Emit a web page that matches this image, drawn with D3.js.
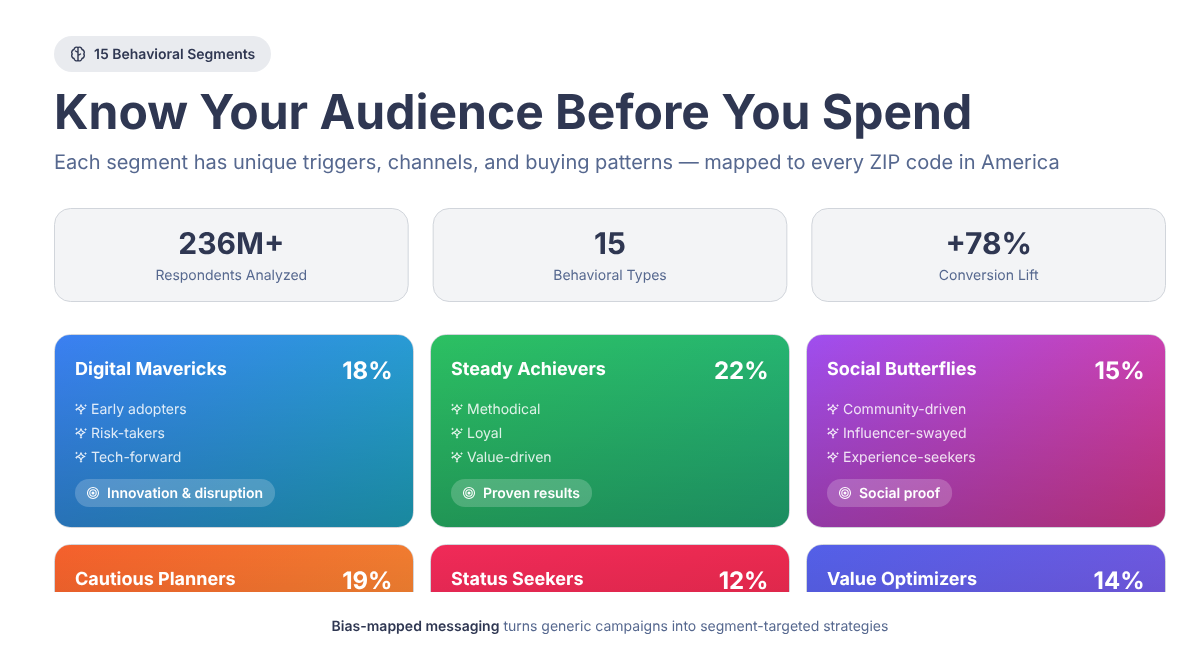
<!DOCTYPE html>
<html>
<head>
<meta charset="utf-8">
<script src="https://cdn.jsdelivr.net/npm/d3@7"></script>
<style>
  html, body { margin: 0; padding: 0; background: #fff; overflow: hidden; }
  svg { display: block; will-change: transform; }
  text { font-family: Inter, "Noto Sans", sans-serif; text-rendering: geometricPrecision; }
</style>
</head>
<body>
<svg width="1199" height="653"></svg>
<script>
const statValues = ["236M+", "15", "+78%"];
const statLabels = ["Respondents Analyzed", "Behavioral Types", "Conversion Lift"];

const segments = ["Digital Mavericks", "Steady Achievers", "Social Butterflies", "Cautious Planners", "Status Seekers", "Value Optimizers"];
const shares = [18, 22, 15, 19, 12, 14];
const traits = [
  ["Early adopters", "Risk-takers", "Tech-forward"],
  ["Methodical", "Loyal", "Value-driven"],
  ["Community-driven", "Influencer-swayed", "Experience-seekers"],
  [], [], []
];
const triggers = ["Innovation & disruption", "Proven results", "Social proof", "", "", ""];
const gradientStops = [
  ["#3b7ff2", "#1faac5"],
  ["#2cc062", "#23af78"],
  ["#9f4ef0", "#e03a90"],
  ["#f5602c", "#ef8a32"],
  ["#f02a58", "#e82a4c"],
  ["#5360e8", "#7a55dc"]
];
const overlayStops = [0, 0.2];

(function () {
  "use strict";
  const svg = d3.select("svg");
  const defs = svg.append("defs");
  const ink = "#2f3752";
  const muted = "#56688f";

  // header
  svg.append("rect").attr("x", 0).attr("y", 0).attr("width", 1199).attr("height", 653).attr("fill", "#fff");
  svg.append("rect").attr("x", 54).attr("y", 36).attr("width", 217).attr("height", 36).attr("rx", 18).attr("fill", "#e9ebef");
  const brain = svg.append("g").attr("transform", "translate(78,54)").attr("fill", "none").attr("stroke", ink).attr("stroke-width", 1.4).attr("stroke-linecap", "round");
  brain.append("path").attr("d", "M0,-6.5C-1.5,-7.5 -3.8,-6.5 -4,-4.5C-6,-4 -7,-1.5 -5.8,0C-7,1.5 -6,4 -4,4.5C-3.8,6.5 -1.5,7.5 0,6.5C1.5,7.5 3.8,6.5 4,4.5C6,4 7,1.5 5.8,0C7,-1.5 6,-4 4,-4.5C3.8,-6.5 1.5,-7.5 0,-6.5Z");
  brain.append("path").attr("d", "M0,-6.5V6.5M0,-1.5L-2.5,-3M0,1.5L2.5,0");
  svg.append("text").attr("x", 94).attr("y", 59).attr("font-size", 14).attr("font-weight", 600).attr("fill", ink).text("15 Behavioral Segments");

  svg.append("text").attr("x", 54).attr("y", 129).attr("font-size", 48).attr("font-weight", 700).attr("fill", ink).text("Know Your Audience Before You Spend");
  svg.append("text").attr("x", 54).attr("y", 169).attr("font-size", 20).attr("fill", muted).text("Each segment has unique triggers, channels, and buying patterns \u2014 mapped to every ZIP code in America");

  // stat boxes
  const statX = d3.scaleBand().domain(d3.range(statValues.length)).range([54, 1166]).paddingInner(24 / 378.67);
  const stat = svg.selectAll("g.stat").data(statValues).join("g").attr("class", "stat")
    .attr("transform", (d, i) => `translate(${statX(i)},208)`);
  stat.append("rect").attr("x", 0.5).attr("y", 0.5).attr("width", statX.bandwidth() - 1).attr("height", 93).attr("rx", 16)
    .attr("fill", "#f3f4f6").attr("stroke", "#d1d5db");
  stat.append("text").attr("x", statX.bandwidth() / 2).attr("y", 46).attr("text-anchor", "middle")
    .attr("font-size", 30).attr("font-weight", 700).attr("fill", ink).text((d) => d);
  stat.append("text").attr("x", statX.bandwidth() / 2).attr("y", 72).attr("text-anchor", "middle")
    .attr("font-size", 14).attr("fill", muted).text((d, i) => statLabels[i]);

  // segment cards, 3 per row
  const cardX = d3.scaleBand().domain([0, 1, 2]).range([54, 1166]).paddingInner(16 / 376);
  const cardY = d3.scaleBand().domain([0, 1]).range([334, 738]).paddingInner(16 / 210);
  const cardW = cardX.bandwidth();
  const cardH = cardY.bandwidth();

  // css 135deg gradient line for this box
  const len = (cardW + cardH) / Math.SQRT2 / 2;
  const dx = len * Math.SQRT1_2;
  gradientStops.forEach((stops, i) => {
    const g = defs.append("linearGradient").attr("id", `card${i}`).attr("gradientUnits", "userSpaceOnUse")
      .attr("x1", cardW / 2 - dx).attr("y1", cardH / 2 - dx).attr("x2", cardW / 2 + dx).attr("y2", cardH / 2 + dx);
    g.append("stop").attr("offset", 0).attr("stop-color", stops[0]);
    g.append("stop").attr("offset", 1).attr("stop-color", stops[1]);
  });
  const shade = defs.append("linearGradient").attr("id", "shade").attr("x1", 0).attr("y1", 0).attr("x2", 0).attr("y2", 1);
  overlayStops.forEach((o, i) => shade.append("stop").attr("offset", i).attr("stop-color", "#000").attr("stop-opacity", o));

  const card = svg.selectAll("g.card").data(segments).join("g").attr("class", "card")
    .attr("transform", (d, i) => `translate(${cardX(i % 3)},${cardY(Math.floor(i / 3))})`);
  card.append("rect").attr("x", 0.5).attr("y", 0.5).attr("width", cardW - 1).attr("height", cardH - 1).attr("rx", 16)
    .attr("fill", "#fff").attr("stroke", "#d1d5db");
  card.append("rect").attr("x", 1).attr("y", 1).attr("width", cardW - 2).attr("height", cardH - 2).attr("rx", 15).attr("fill", (d, i) => `url(#card${i})`);
  card.append("rect").attr("x", 1).attr("y", 1).attr("width", cardW - 2).attr("height", cardH - 2).attr("rx", 15).attr("fill", "url(#shade)");
  card.append("text").attr("x", 21).attr("y", 41).attr("font-size", 18).attr("font-weight", 700).attr("fill", "#fff").text((d) => d);
  card.append("text").attr("x", cardW - 21.5).attr("y", 45).attr("text-anchor", "end").attr("font-size", 24).attr("font-weight", 700)
    .attr("fill", "#fff").text((d, i) => `${shares[i]}%`);

  // trait rows with sparkle icon
  const trait = card.selectAll("g.trait").data((d, i) => traits[i]).join("g").attr("class", "trait")
    .attr("transform", (d, j) => `translate(21,${75 + j * 24})`);
  const spark = (s) => `M0,${-s}L${s * 0.35},${-s * 0.35}L${s},0L${s * 0.35},${s * 0.35}L0,${s}L${-s * 0.35},${s * 0.35}L${-s},0L${-s * 0.35},${-s * 0.35}Z`;
  trait.append("path").attr("transform", "translate(6,-0.5)").attr("d", spark(3.6)).attr("fill", "none").attr("stroke", "#fff").attr("stroke-width", 1.1).attr("opacity", 0.9);
  [[10.5, -3.5], [1.5, 0.5], [6, 4.5], [1.5, -4]].forEach(([x, y]) => {
    trait.append("path").attr("transform", `translate(${x},${y})`).attr("d", spark(1.5)).attr("fill", "#fff").attr("opacity", 0.85);
  });
  trait.append("text").attr("x", 16).attr("y", 5).attr("font-size", 14).attr("fill", "#fff").attr("fill-opacity", 0.85).text((d) => d);

  // trigger pill
  const pill = card.filter((d, i) => triggers[i]).append("g").attr("transform", "translate(21,145)");
  pill.append("text").attr("x", 32).attr("y", 19).attr("font-size", 14).attr("font-weight", 600).attr("fill", "#fff").text((d) => triggers[segments.indexOf(d)]);
  pill.insert("rect", "text").attr("height", 28).attr("rx", 14).attr("fill", "#fff").attr("fill-opacity", 0.2)
    .attr("width", function () { return this.parentNode.querySelector("text").getComputedTextLength() + 44; });
  [5.5, 3.2, 1].forEach((r) => {
    pill.append("circle").attr("cx", 18).attr("cy", 14).attr("r", r).attr("fill", r === 1 ? "#fff" : "none").attr("stroke", "#fff").attr("stroke-width", 1.1);
  });

  // the cards run off under the footer
  svg.append("rect").attr("x", 0).attr("y", 592).attr("width", 1199).attr("height", 61).attr("fill", "#fff");
  const foot = svg.append("text").attr("x", 610).attr("y", 631).attr("text-anchor", "middle").attr("font-size", 14).attr("fill", muted);
  foot.append("tspan").attr("font-weight", 600).attr("fill", ink).text("Bias-mapped messaging");
  foot.append("tspan").text(" turns generic campaigns into segment-targeted strategies");
})();
</script>
</body>
</html>
